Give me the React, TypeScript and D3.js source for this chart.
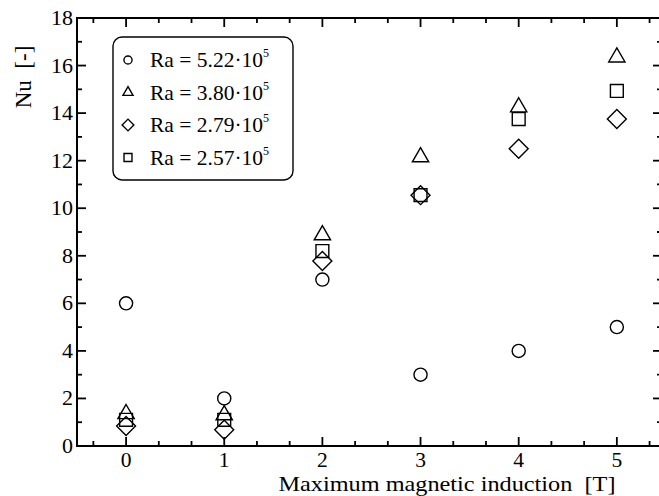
import React from 'react'
import * as d3 from 'd3'

// Maximum magnetic induction [T]
const inductions = [0, 1, 2, 3, 4, 5]

const series = [
  { name: '5.22', shape: 'circle', values: [6.0, 2.0, 7.0, 3.0, 4.0, 5.0] },
  { name: '3.80', shape: 'triangle', values: [1.35, 1.3, 8.87, 12.15, 14.25, 16.35] },
  { name: '2.79', shape: 'diamond', values: [0.84, 0.68, 7.78, 10.55, 12.5, 13.75] },
  { name: '2.57', shape: 'square', values: [1.1, 1.1, 8.2, 10.55, 13.75, 14.93] },
]

const xTicks = [0, 1, 2, 3, 4, 5]
const yTicks = [0, 2, 4, 6, 8, 10, 12, 14, 16, 18]

const W = 659
const H = 496
const left = 77
const right = 662
const top = 18
const bottom = 446

const x = d3.scaleLinear().domain([-0.5, 5.46]).range([left, right])
const y = d3.scaleLinear().domain([0, 18]).range([bottom, top])

const font = '"Liberation Serif", "Times New Roman", Times, serif'

const typeMap: Record<string, d3.SymbolType> = {
  circle: d3.symbolCircle,
  triangle: d3.symbolTriangle,
  diamond: d3.symbolSquare,
  square: d3.symbolSquare,
}
const sizes: Record<string, number> = { circle: 135, triangle: 115, diamond: 180, square: 165 }

function Marker({ shape, cx, cy, scale = 1 }: { shape: string; cx: number; cy: number; scale?: number }) {
  const rot = shape === 'diamond' ? ' rotate(45)' : ''
  const d = d3.symbol().type(typeMap[shape]).size(sizes[shape] * scale * scale)()
  return (
    <path
      d={d as string}
      transform={`translate(${cx},${cy})${rot}`}
      fill="none"
      stroke="#000"
      strokeWidth={1.4}
    />
  )
}

const txt = { fontFamily: font, whiteSpace: 'pre' as const }

export default function App() {
  const xMinor = d3.range(-0.5 + 1 / 6, 5.46, 1 / 3).filter((t) => Math.abs(t - Math.round(t)) > 0.05)
  const yMinor = d3.range(1, 18, 2)
  return (
    <svg width={W} height={H} style={{ position: 'absolute', left: 0, top: 0, fontFamily: font }}>
      <rect x={0} y={0} width={W} height={H} fill="#fff" />
      {/* frame */}
      <rect x={left} y={top} width={right - left} height={bottom - top} fill="none" stroke="#000" strokeWidth={2} />

      {/* x ticks */}
      {xTicks.map((t) => (
        <g key={'x' + t}>
          <line x1={x(t)} x2={x(t)} y1={bottom} y2={bottom - 9} stroke="#000" strokeWidth={1.8} />
          <line x1={x(t)} x2={x(t)} y1={top} y2={top + 9} stroke="#000" strokeWidth={1.8} />
          <text x={x(t)} y={467} textAnchor="middle" fontSize={21.5} style={txt}>{t}</text>
        </g>
      ))}
      {xMinor.map((t, i) => (
        <g key={'xm' + i}>
          <line x1={x(t)} x2={x(t)} y1={bottom} y2={bottom - 5} stroke="#000" strokeWidth={1.8} />
          <line x1={x(t)} x2={x(t)} y1={top} y2={top + 5} stroke="#000" strokeWidth={1.8} />
        </g>
      ))}

      {/* y ticks */}
      {yTicks.map((t) => (
        <g key={'y' + t}>
          <line x1={left} x2={left + 9} y1={y(t)} y2={y(t)} stroke="#000" strokeWidth={1.8} />
          <line x1={right} x2={right - 9} y1={y(t)} y2={y(t)} stroke="#000" strokeWidth={1.8} />
          <text x={73} y={y(t) + 7} textAnchor="end" fontSize={22} style={txt}>{t}</text>
        </g>
      ))}
      {yMinor.map((t) => (
        <g key={'ym' + t}>
          <line x1={left} x2={left + 5} y1={y(t)} y2={y(t)} stroke="#000" strokeWidth={1.8} />
          <line x1={right} x2={right - 5} y1={y(t)} y2={y(t)} stroke="#000" strokeWidth={1.8} />
        </g>
      ))}

      {/* axis titles */}
      <text x={447} y={491} textAnchor="middle" fontSize={22} textLength={337} lengthAdjust="spacingAndGlyphs" style={txt}>
        Maximum magnetic induction  [T]
      </text>
      <text transform="translate(31,77) rotate(-90)" textAnchor="middle" fontSize={23} style={txt}>
        Nu  [-]
      </text>

      {/* data */}
      {series.map((s) =>
        s.values.map((v, i) => (
          <Marker key={s.name + i} shape={s.shape} cx={x(inductions[i])} cy={y(v)} />
        ))
      )}

      {/* legend */}
      <rect x={113} y={37} width={180} height={143} rx={9} fill="#fff" stroke="#000" strokeWidth={1.4} />
      {series.map((s, i) => {
        const cy = 60 + i * 32.5
        return (
          <g key={'lg' + s.name}>
            <Marker shape={s.shape} cx={128} cy={cy} scale={0.62} />
            <text x={150} y={cy + 7} fontSize={21.5} style={txt}>
              Ra = {s.name}·10<tspan dy={-10} fontSize={12}>5</tspan>
            </text>
          </g>
        )
      })}
    </svg>
  )
}
